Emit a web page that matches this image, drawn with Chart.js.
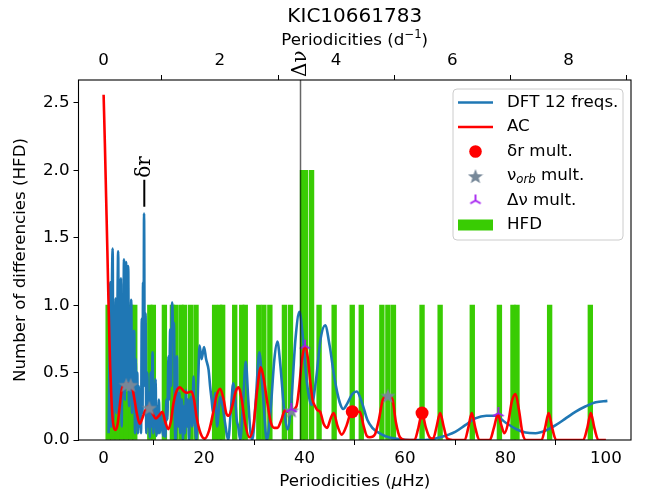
<!DOCTYPE html>
<html>
<head>
<meta charset="utf-8">
<script src="https://cdn.jsdelivr.net/npm/chart.js@4.4.1/dist/chart.umd.min.js"></script>
<style>
  html, body { margin: 0; padding: 0; background: #fff; }
  #wrap { width: 648px; height: 495px; }
</style>
</head>
<body>
<div id="wrap"><canvas id="myChart" width="648" height="495"></canvas></div>
<script>
// histogram of frequency differences (HFD)
const hfdX = [0.9, 1.8, 2.7, 3.6, 4.5, 5.4, 6.2, 9.2, 9.9, 12.1, 13.7, 14.3, 15.4, 16.1, 17.3, 18.4,
  22.1, 23.1, 23.7, 26.1, 27.5, 28.2, 30.9, 31.9, 33.1, 36.0, 37.2, 39.6, 40.2, 41.4, 42.9, 45.9,
  49.5, 51.3, 55.4, 56.6, 57.7, 63.4, 67.0, 73.4, 78.8, 81.5, 82.3, 88.8, 96.9];
const hfdY = [1, 1, 1, 1, 1, 1, 1, 1, 1, 1, 1, 1, 1, 1, 1, 1,
  1, 1, 1, 1, 1, 1, 1, 1, 1, 1, 1, 2, 2, 2, 1, 1,
  1, 1, 1, 1, 1, 1, 1, 1, 1, 1, 1, 1, 1];

// DFT of the 12 frequencies
const dftX = [1.0, 1.2, 1.35, 1.45, 1.6, 1.8, 1.95, 2.1, 2.25, 2.4, 2.55, 2.7, 2.9, 3.05, 3.2, 3.35,
  3.45, 3.6, 3.75, 3.9, 4.05, 4.2, 4.35, 4.5, 4.6, 4.75, 4.9, 5.05, 5.2, 5.35, 5.5, 5.65, 5.8, 5.95,
  6.1, 6.25, 6.4, 6.55, 6.7, 6.85, 7.0, 7.15, 7.3, 7.45, 7.6, 7.75, 7.85, 7.95, 8.05, 8.2, 8.35, 8.5,
  8.7, 8.85, 9.0, 9.2, 9.4, 9.55, 9.75, 9.9, 10.05, 10.2, 10.35, 10.5, 10.7, 10.85, 11.0, 11.2, 11.4,
  11.6, 11.9, 12.1, 12.3, 12.5, 12.7, 12.9, 13.05, 13.25, 13.4, 13.65, 13.85, 14.0, 14.2, 14.35, 14.6,
  14.75, 14.9, 15.1, 15.25, 15.45, 15.6, 15.8, 16.0, 16.2, 16.4, 16.6, 16.8, 17.0, 17.2, 17.5, 17.65,
  17.9, 18.1, 18.5, 18.8, 19.1, 19.5, 20.0, 20.4, 20.9, 21.2, 21.5, 21.8, 22.2, 22.6, 23.2, 23.7,
  24.2, 24.8, 25.3, 25.8, 26.2, 26.5, 26.8, 27.2, 27.8, 28.3, 28.8, 29.2, 29.6, 30.3, 31.0, 31.7,
  32.5, 33.2, 34.0, 34.6, 35.2, 36.0, 36.6, 37.3, 38.2, 39.0, 39.7, 40.4, 41.0, 41.4, 42.3, 43.2,
  44.1, 45.0, 46.0, 47.0, 47.7, 48.5, 49.5, 50.4, 51.5, 52.5, 53.5, 54.5, 56.0, 58.0, 61.0, 64.0,
  67.0, 70.0, 72.0, 74.0, 76.2, 78.0, 80.0, 82.2, 84.0, 86.0, 88.0, 90.0, 92.0, 94.0, 96.0, 98.0, 100.3];
const dftY = [0.05, 0.7, 1.17, 0.1, 0.9, 1.42, 0.15, 0.75, 0.3, 1.05, 0.2, 0.75, 1.40, 0.25, 0.9, 0.3,
  1.2, 0.1, 0.85, 0.35, 1.34, 0.3, 0.95, 1.32, 0.4, 1.0, 1.29, 0.25, 0.85, 0.5, 1.04, 0.2, 0.81, 0.4,
  0.81, 0.05, 0.6, 0.2, 0.5, 0.05, 0.4, 0.1, 0.35, 0.05, 0.9, 0.2, 1.17, 0.5, 1.68, 0.4, 0.94, 0.05,
  0.5, 0.1, 0.35, 0.02, 0.5, 0.1, 0.65, 0.05, 0.3, 0.1, 0.45, 0.03, 0.25, 0.05, 0.3, 0.05, 0.2,
  0.1, 0.03, 0.15, 0.02, 0.3, 0.15, 0.62, 0.3, 0.82, 0.4, 1.02, 0.8, 0.87, 0.1, 0.0, 0.62,
  0.15, 0.1, 0.35, 0.05, 0.3, 0.3, 0.0, 0.25, 0.05, 0.37, 0.1, 0.3, 0.0, 0.25, 0.32, 0.1,
  0.47, 0.2, 0.0, 0.4, 0.7, 0.6, 0.69, 0.6, 0.52, 0.4, 0.3, 0.2, 0.35, 0.1, 0.32, 0.25,
  0.12, 0.0, 0.2, 0.42, 0.3, 0.15, 0.1, 0.0, 0.3, 0.58, 0.3, 0.07, 0.0, 0.3, 0.65, 0.35,
  0.0, 0.2, 0.6, 0.73, 0.55, 0.2, 0.08, 0.25, 0.75, 0.95, 0.75, 0.45, 0.3, 0.26, 0.45, 0.75,
  0.85, 0.7, 0.45, 0.28, 0.23, 0.27, 0.34, 0.36, 0.27, 0.15, 0.09, 0.06, 0.03, 0.01, 0.0, 0.0,
  0.02, 0.06, 0.11, 0.16, 0.18, 0.18, 0.13, 0.08, 0.055, 0.05, 0.07, 0.11, 0.16, 0.21, 0.25, 0.28, 0.29];

// autocorrelation (AC)
const acX = [0, 0.25, 0.5, 0.75, 0.96, 1.15, 1.3, 1.5, 1.75, 2.0, 2.4, 2.8, 3.2, 3.6, 4.1, 4.6, 5.1,
  5.6, 6.1, 6.6, 7.2, 7.7, 8.3, 9.0, 9.7, 10.4, 11.0, 11.7, 12.3, 12.9, 13.4, 13.9, 14.5, 15.2, 16.0,
  16.6, 17.5, 18.0, 18.5, 19.3, 20.1, 21.0, 21.8, 22.5, 23.2, 23.9, 24.4, 24.9, 25.6, 26.3, 26.9,
  27.5, 28.2, 29.0, 29.8, 30.6, 31.3, 31.9, 32.5, 33.3, 34.0, 34.6, 35.4, 36.1, 36.8, 37.4, 38.4,
  38.9, 39.5, 40.1, 40.7, 41.1, 41.6, 42.1, 42.6, 43.1, 43.8, 44.5, 45.2, 45.8, 46.6, 47.4, 48.3,
  49.4, 50.3, 51.0, 51.8, 52.4, 53.0, 54.0, 54.8, 55.6, 56.6, 57.5, 58.2, 59.0, 60.0, 61.9, 62.6,
  63.4, 64.1, 64.9, 65.6, 66.3, 67.0, 67.7, 68.4, 69.5, 71.9, 72.6, 73.3, 74.0, 74.8, 76.9, 77.7,
  78.5, 79.1, 79.8, 80.5, 81.3, 82.0, 82.7, 83.4, 84.1, 87.2, 87.9, 88.6, 89.3, 90.1, 95.5, 96.3,
  97.0, 97.7, 98.5, 100.0];
const acY = [2.56, 2.2, 1.8, 1.4, 1.04, 0.75, 0.55, 0.35, 0.18, 0.1, 0.075, 0.12, 0.25, 0.37, 0.41, 0.42, 0.41,
  0.4, 0.31, 0.2, 0.12, 0.16, 0.22, 0.25, 0.2, 0.16, 0.18, 0.21, 0.13, 0.08, 0.14, 0.27, 0.36, 0.39, 0.36,
  0.35, 0.36, 0.3, 0.17, 0.05, 0.01, 0.07, 0.2, 0.33, 0.38, 0.3, 0.2, 0.18, 0.25, 0.36, 0.39,
  0.3, 0.12, 0.02, 0.1, 0.38, 0.54, 0.45, 0.3, 0.13, 0.09, 0.09, 0.15, 0.22, 0.21, 0.22, 0.25,
  0.38, 0.6, 0.70, 0.6, 0.45, 0.3, 0.25, 0.22, 0.21, 0.12, 0.09, 0.16, 0.2, 0.1, 0.04, 0.1,
  0.21, 0.21, 0.21, 0.1, 0.03, 0.02, 0.04, 0.15, 0.3, 0.33, 0.3, 0.13, 0.02, 0.0, 0.0, 0.08,
  0.2, 0.1, 0.02, 0.01, 0.1, 0.2, 0.1, 0.01, 0.0, 0.0, 0.09, 0.2, 0.09, 0.0, 0.0, 0.09,
  0.19, 0.12, 0.05, 0.12, 0.29, 0.34, 0.22, 0.05, 0.0, 0.0, 0.09, 0.2, 0.09, 0.0, 0.0, 0.09,
  0.2, 0.09, 0.0, 0.0];

// multiples
const drX = [49.5, 63.4];
const drY = [0.21, 0.20];
const orbX = [4.5, 5.4, 9.1, 37.4, 56.6];
const orbY = [0.41, 0.41, 0.24, 0.22, 0.33];
const dnuX = [37.4, 40.1, 78.6];
const dnuY = [0.23, 0.70, 0.20];

const deltaNu = 39.2;      // large separation marker
const deltaR = 8.1;        // rotational splitting marker
const deltaRTop = [1.73, 1.93];

const xTicks = [0, 20, 40, 60, 80, 100];
const yTicks = [0, 0.5, 1.0, 1.5, 2.0, 2.5];
const dayTicks = [0, 2, 4, 6, 8];
const UHZ_PER_DAY = 1e6 / 86400;

const FONT = 'DejaVu Sans';
const GREEN = '#39cc03';
const BLUE = '#1f77b4';
const STAR = '#778899';
const VIOLET = '#a31cf0';
const LW = 2.6;

function pts(xs, ys) {
  return xs.map((x, i) => ({ x: x, y: ys[i] }));
}

function makeStar(size, color) {
  const c = document.createElement('canvas');
  c.width = c.height = size;
  const g = c.getContext('2d');
  const r = size / 2, ri = r * 0.42;
  g.beginPath();
  for (let i = 0; i < 10; i++) {
    const a = -Math.PI / 2 + i * Math.PI / 5;
    const rr = i % 2 ? ri : r;
    g.lineTo(r + rr * Math.cos(a), r + rr * Math.sin(a) + 0.9);
  }
  g.closePath();
  g.fillStyle = color;
  g.fill();
  return c;
}

function makeTri(size, color) {
  const c = document.createElement('canvas');
  c.width = c.height = size;
  const g = c.getContext('2d');
  const r = size / 2 - 1;
  const cx = size / 2, cy = size / 2;
  g.strokeStyle = color;
  g.lineWidth = 1.8;
  g.beginPath();
  g.moveTo(cx, cy); g.lineTo(cx, cy - r);
  g.moveTo(cx, cy); g.lineTo(cx - r * 0.866, cy + r * 0.5);
  g.moveTo(cx, cy); g.lineTo(cx + r * 0.866, cy + r * 0.5);
  g.stroke();
  return c;
}

const starImg = makeStar(16, STAR);
const triImg = makeTri(14, VIOLET);

function font(size, style) {
  return (style ? style + ' ' : '') + size + 'px "' + FONT + '"';
}

// draws text pieces one after another, each with its own font and vertical shift
function drawRuns(ctx, runs, x, y, align) {
  let total = 0;
  runs.forEach(r => { ctx.font = r.font; total += ctx.measureText(r.text).width; });
  let cx = align === 'center' ? x - total / 2 : x;
  ctx.textAlign = 'left';
  runs.forEach(r => {
    ctx.font = r.font;
    ctx.fillText(r.text, cx, y + (r.dy || 0));
    cx += ctx.measureText(r.text).width;
  });
}

const extras = {
  id: 'extras',
  afterDatasetsDraw(chart) {
    const ctx = chart.ctx;
    const a = chart.chartArea;
    const xs = chart.scales.x, ys = chart.scales.y;
    ctx.save();
    // vertical line at delta nu
    const xn = xs.getPixelForValue(deltaNu);
    ctx.strokeStyle = 'rgba(0,0,0,0.6)';
    ctx.lineWidth = 1.5;
    ctx.beginPath();
    ctx.moveTo(xn, a.top);
    ctx.lineTo(xn, a.bottom);
    ctx.stroke();
    // delta r tick and label
    const xr = xs.getPixelForValue(deltaR);
    ctx.strokeStyle = '#000';
    ctx.lineWidth = 2;
    ctx.beginPath();
    ctx.moveTo(xr, ys.getPixelForValue(deltaRTop[0]));
    ctx.lineTo(xr, ys.getPixelForValue(deltaRTop[1]));
    ctx.stroke();
    ctx.fillStyle = '#000';
    ctx.translate(xr, ys.getPixelForValue(deltaRTop[1]) - 2);
    ctx.rotate(-Math.PI / 2);
    ctx.font = '20px "DejaVu Serif"';
    ctx.textAlign = 'left';
    ctx.textBaseline = 'middle';
    ctx.fillText('δr', 0, 0);
    ctx.restore();
  },
  afterDraw(chart) {
    const ctx = chart.ctx;
    const a = chart.chartArea;
    const xs = chart.scales.x;
    ctx.save();
    // frame
    ctx.strokeStyle = '#000';
    ctx.lineWidth = 1.1;
    ctx.strokeRect(a.left, a.top, a.right - a.left, a.bottom - a.top);

    ctx.fillStyle = '#000';
    ctx.textBaseline = 'middle';
    const cx = (a.left + a.right) / 2;

    // title and top axis label
    ctx.font = font(20);
    ctx.textAlign = 'center';
    ctx.fillText('KIC10661783', cx, 17);
    drawRuns(ctx, [
      { text: 'Periodicities (d', font: font(16.7) },
      { text: '−1', font: font(11.7), dy: -6 },
      { text: ')', font: font(16.7) }
    ], cx, 41, 'center');

    // bottom axis label
    drawRuns(ctx, [
      { text: 'Periodicities (', font: font(16.7) },
      { text: 'μ', font: font(16.7, 'italic') },
      { text: 'Hz)', font: font(16.7) }
    ], cx, 482, 'center');

    // y axis label
    ctx.save();
    ctx.translate(21, (a.top + a.bottom) / 2);
    ctx.rotate(-Math.PI / 2);
    ctx.font = font(16.7);
    ctx.textAlign = 'center';
    ctx.fillText('Number of differencies (HFD)', 0, 0);
    ctx.restore();

    // delta nu label above the frame
    ctx.save();
    ctx.translate(xs.getPixelForValue(deltaNu), a.top - 3);
    ctx.rotate(-Math.PI / 2);
    ctx.font = '20px "DejaVu Serif"';
    ctx.textAlign = 'left';
    ctx.fillText('Δν', 0, 0);
    ctx.restore();

    // legend
    const lx = 453, ly = 89, lw = 170, lh = 151;
    ctx.beginPath();
    ctx.roundRect(lx, ly, lw, lh, 4);
    ctx.fillStyle = 'rgba(255,255,255,0.8)';
    ctx.fill();
    ctx.strokeStyle = '#cccccc';
    ctx.lineWidth = 1;
    ctx.stroke();

    const rows = [102.5, 127, 151.5, 176, 200.5, 225];
    const hx0 = 458, hx1 = 493, hc = 475.5, tx = 507;
    ctx.lineWidth = LW;
    ctx.strokeStyle = BLUE;
    ctx.beginPath(); ctx.moveTo(hx0, rows[0]); ctx.lineTo(hx1, rows[0]); ctx.stroke();
    ctx.strokeStyle = 'red';
    ctx.beginPath(); ctx.moveTo(hx0, rows[1]); ctx.lineTo(hx1, rows[1]); ctx.stroke();
    ctx.fillStyle = 'red';
    ctx.beginPath(); ctx.arc(hc, rows[2], 6.3, 0, Math.PI * 2); ctx.fill();
    ctx.drawImage(starImg, hc - 8, rows[3] - 8);
    ctx.drawImage(triImg, hc - 7, rows[4] - 7);
    ctx.fillStyle = GREEN;
    ctx.fillRect(hx0, rows[5] - 5.5, hx1 - hx0, 11);

    ctx.fillStyle = '#000';
    ctx.font = font(16.7);
    ctx.textAlign = 'left';
    ctx.fillText('DFT 12 freqs.', tx, rows[0]);
    ctx.fillText('AC', tx, rows[1]);
    ctx.fillText('δr mult.', tx, rows[2]);
    drawRuns(ctx, [
      { text: 'ν', font: font(16.7) },
      { text: 'orb', font: font(11.7, 'italic'), dy: 4 },
      { text: ' mult.', font: font(16.7) }
    ], tx, rows[3], 'left');
    ctx.fillText('Δν mult.', tx, rows[4]);
    ctx.fillText('HFD', tx, rows[5]);
    ctx.restore();
  }
};

const tickFont = { family: FONT, size: 16.7 };
const tickGrid = { drawOnChartArea: false, drawTicks: true, tickLength: 5, color: '#000' };

const ctx = document.getElementById('myChart').getContext('2d');
const chart = new Chart(ctx, {
  type: 'bar',
  data: {
    datasets: [
      {
        type: 'scatter', label: 'Δν mult.', data: pts(dnuX, dnuY),
        pointStyle: triImg, pointRadius: 7, order: 1
      },
      {
        type: 'scatter', label: 'νorb mult.', data: pts(orbX, orbY),
        pointStyle: starImg, pointRadius: 8, order: 2
      },
      {
        type: 'scatter', label: 'δr mult.', data: pts(drX, drY),
        pointStyle: 'circle', pointRadius: 6.5, backgroundColor: 'red', borderWidth: 0, order: 3
      },
      {
        type: 'line', label: 'AC', data: pts(acX, acY),
        borderColor: 'red', borderWidth: LW, pointRadius: 0,
        cubicInterpolationMode: 'monotone', order: 4
      },
      {
        type: 'line', label: 'DFT 12 freqs.', data: pts(dftX, dftY),
        borderColor: BLUE, borderWidth: LW, pointRadius: 0,
        cubicInterpolationMode: 'monotone', order: 5
      },
      {
        type: 'bar', label: 'HFD', data: pts(hfdX, hfdY),
        backgroundColor: GREEN, barThickness: 4.7, order: 6
      }
    ]
  },
  options: {
    responsive: false,
    animation: false,
    devicePixelRatio: 1,
    layout: { padding: { left: 0, right: 17, top: 0, bottom: 0 } },
    plugins: { legend: { display: false }, tooltip: { enabled: false } },
    scales: {
      x: {
        type: 'linear', position: 'bottom', min: -5, max: 105, offset: false,
        afterBuildTicks: s => { s.ticks = xTicks.map(v => ({ value: v })); },
        afterFit: s => { s.height = 55; },
        ticks: { font: tickFont, color: '#000', padding: 4, maxRotation: 0, autoSkip: false,
          callback: v => String(v) },
        grid: tickGrid,
        border: { display: false }
      },
      x2: {
        type: 'linear', position: 'top', min: -5, max: 105, offset: false,
        afterBuildTicks: s => { s.ticks = dayTicks.map(d => ({ value: d * UHZ_PER_DAY })); },
        afterFit: s => { s.height = 80; },
        ticks: { font: tickFont, color: '#000', padding: 4, maxRotation: 0, autoSkip: false,
          callback: v => String(Math.round(v / UHZ_PER_DAY)) },
        grid: tickGrid,
        border: { display: false }
      },
      y: {
        type: 'linear', min: 0, max: 2.67,
        afterBuildTicks: s => { s.ticks = yTicks.map(v => ({ value: v })); },
        afterFit: s => { s.width = 78.5; },
        ticks: { font: tickFont, color: '#000', padding: 4, callback: v => v.toFixed(1) },
        grid: tickGrid,
        border: { display: false }
      }
    }
  },
  plugins: [extras]
});
</script>
</body>
</html>
